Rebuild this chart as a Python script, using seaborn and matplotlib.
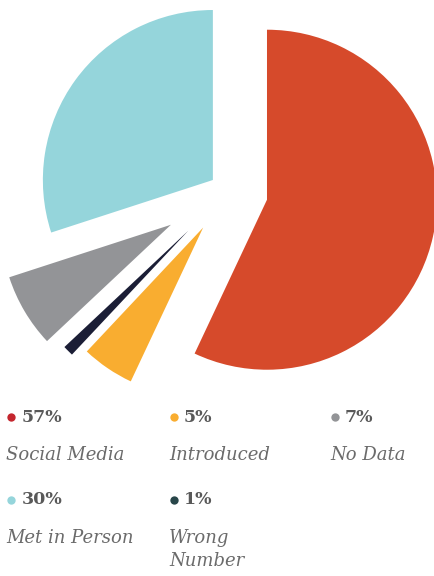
import matplotlib
matplotlib.use("Agg")
import matplotlib.pyplot as plt
import seaborn as sns

# --- data ---
labels = ["Social Media", "Introduced", "Wrong Number", "No Data", "Met in Person"]
shares = [57, 5, 1, 7, 30]
slice_colors = ["#D64A2B", "#F9AD30", "#1B1E36", "#939497", "#95D5DB"]

legend_order = ["Social Media", "Introduced", "No Data", "Met in Person", "Wrong Number"]
legend_names = {"Wrong Number": ["Wrong", "Number"]}
dot_colors = {
    "Social Media": "#C4262E",
    "Introduced": "#F9AD30",
    "No Data": "#939497",
    "Met in Person": "#95D5DB",
    "Wrong Number": "#28464A",
}

sns.set_theme(style="white")
plt.rcParams["font.family"] = ["DejaVu Serif"]

W, H = 435, 576
fig = plt.figure(figsize=(W / 100, H / 100), dpi=100)

# pie: radius 1 == 170 px, centre at (228, 191) px
R = 170
cx, cy = 228, 191
top_px = 400
ax = fig.add_axes([0, 1 - top_px / H, 1, top_px / H])
ax.pie(
    shares,
    colors=slice_colors,
    explode=[0.235, 0.26, 0.33, 0.39, 0.11],
    startangle=90,
    counterclock=False,
    radius=1,
    wedgeprops=dict(linewidth=0),
)
ax.set_xlim(-cx / R, (W - cx) / R)
ax.set_ylim((cy - top_px) / R, cy / R)
ax.set_aspect("auto")
ax.axis("off")

# legend drawn in pixel space
lax = fig.add_axes([0, 0, 1, 1])
lax.set_xlim(0, W)
lax.set_ylim(H, 0)
lax.axis("off")

col_x = [11.5, 174, 335]
row_y = [417, 500]
label_gap = 43
line_step = 23

share_of = dict(zip(labels, shares))
for i, name in enumerate(legend_order):
    x = col_x[i % 3]
    y = row_y[i // 3]
    lax.scatter([x], [y], s=36, color=dot_colors[name], linewidths=0)
    lax.text(x + 10, y, f"{share_of[name]}%", fontsize=12.5, fontweight="bold",
             color="#595959", va="center", ha="left")
    for k, line in enumerate(legend_names.get(name, [name])):
        lax.text(x - 5, y + label_gap + k * line_step, line, fontsize=13,
                 style="italic", color="#6b6b6b", va="baseline", ha="left")

fig.savefig("out.png", dpi=100)
